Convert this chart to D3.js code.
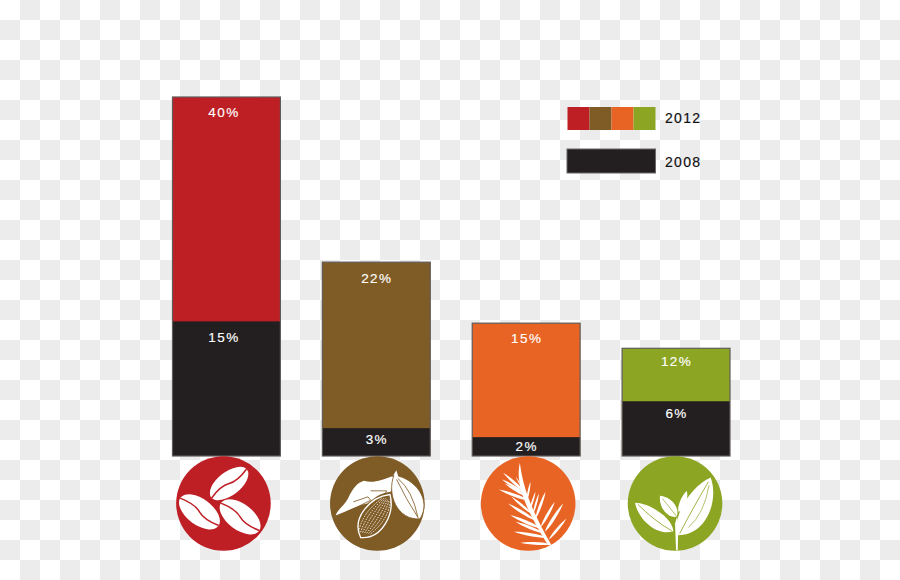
<!DOCTYPE html>
<html><head><meta charset="utf-8">
<script src="https://cdn.jsdelivr.net/npm/d3@7/dist/d3.min.js"></script>
<style>html,body{margin:0;padding:0;background:#fff;overflow:hidden}svg{display:block}text{font-family:"Liberation Sans",sans-serif}</style>
</head><body><div id="chart"></div>
<script>
const categories = ["Coffee","Cocoa","Palm oil","Tea"];
const values2012 = [40, 21.6, 14.8, 12];
const values2008 = [15, 3.1, 2.1, 6.1];
const colors2012 = ["#be1f25","#7f5b26","#e86424","#8ca522"];
const color2008 = "#231f20";
const legendLabels = ["2012","2008"];

const W=900,H=580;
const topLabelOffset=[15,16,15,13];
const lowLabelOffset=[16.5,11,9,12];
const labelShift=[-3,0,0,0];
const iconShift=[-3,1,2,-1];

const svg=d3.select("#chart").append("svg").attr("width",W).attr("height",H);
const pat=svg.append("defs").append("pattern").attr("id","chk").attr("width",40).attr("height",40).attr("patternUnits","userSpaceOnUse");
pat.append("rect").attr("width",40).attr("height",40).attr("fill","#fff");
pat.append("rect").attr("x",20).attr("width",20).attr("height",20).attr("fill","#ececec");
pat.append("rect").attr("y",20).attr("width",20).attr("height",20).attr("fill","#ececec");
svg.append("rect").attr("width",W).attr("height",H).attr("fill","url(#chk)");

const x=d3.scaleBand().domain(categories).range([172.5,730]).paddingInner(0.28).paddingOuter(0);
const y=d3.scaleLinear().domain([0,40]).range([456,97]);
const pct=v=>d3.format(".0f")(v)+"%";

const g=svg.append("g").selectAll("g").data(categories).join("g").attr("transform",d=>`translate(${x(d)},0)`);
g.append("rect").attr("y",(d,i)=>y(values2012[i])).attr("width",x.bandwidth()).attr("height",(d,i)=>y(0)-y(values2012[i]))
 .attr("fill",(d,i)=>colors2012[i]);
g.append("rect").attr("y",(d,i)=>y(values2008[i])).attr("width",x.bandwidth()).attr("height",(d,i)=>y(0)-y(values2008[i]))
 .attr("fill",color2008);
g.append("rect").attr("y",(d,i)=>y(values2012[i])).attr("width",x.bandwidth()).attr("height",(d,i)=>y(0)-y(values2012[i]))
 .attr("fill","none").attr("stroke","#5f5b59").attr("stroke-width",1.2);

const lab=s=>s.attr("x",(d,i)=>x.bandwidth()/2+.5+labelShift[i]).attr("text-anchor","middle").attr("dominant-baseline","central")
 .attr("fill","#fff").attr("stroke","#fff").attr("stroke-width",.15).attr("font-size",13.5).attr("letter-spacing",1.4);
g.append("text").call(lab).attr("y",(d,i)=>y(values2012[i])+topLabelOffset[i]).text((d,i)=>pct(values2012[i]));
g.append("text").call(lab).attr("y",(d,i)=>y(values2008[i])+lowLabelOffset[i]).text((d,i)=>pct(values2008[i]));

// legend
const lx=d3.scaleBand().domain(colors2012).range([567.5,655.5]);
svg.append("g").selectAll("rect").data(colors2012).join("rect").attr("x",d=>lx(d)).attr("y",107).attr("width",lx.bandwidth()).attr("height",23).attr("fill",d=>d);
svg.append("rect").attr("x",567).attr("y",149).attr("width",88.5).attr("height",24).attr("fill",color2008).attr("stroke","#6a6765").attr("stroke-width",1);
svg.append("g").selectAll("text").data(legendLabels).join("text").attr("x",665).attr("y",(d,i)=>123+i*44).attr("fill","#111").attr("stroke","#111").attr("stroke-width",.2).attr("font-size",14).attr("letter-spacing",1.3).text(d=>d);

// icons, drawn in 3x local units around each disc centre
const WHITE="#fff";
const leaf=(bx,by,tx,ty,a,b)=>{
  const dx=tx-bx,dy=ty-by,nx=-dy,ny=dx;
  return `M${bx},${by}C${bx+dx*.2+nx*a},${by+dy*.2+ny*a} ${bx+dx*.75+nx*a*.8},${by+dy*.75+ny*a*.8} ${tx},${ty}C${bx+dx*.75-nx*b*.8},${by+dy*.75-ny*b*.8} ${bx+dx*.2-nx*b},${by+dy*.2-ny*b} ${bx},${by}Z`;
};
function coffee(s,c){
  [[17,-60,68,35,-38],[-72,25,71,39,37],[50,40,71,39,37]].forEach(([cx,cy,rx,ry,r])=>{
    const b=s.append("g").attr("transform",`translate(${cx},${cy}) rotate(${r})`);
    b.append("ellipse").attr("rx",rx).attr("ry",ry).attr("fill",WHITE);
    b.append("path").attr("d",`M${-rx},2C${-rx*.5},-8 ${-rx*.2},-6 0,0S${rx*.5},8 ${rx},-2`).attr("fill","none").attr("stroke",c).attr("stroke-width",4.5);
  });
}
function cocoa(s,c){
  s.append("path").attr("d","M-125,36C-118,15 -100,8 -88,-15C-72,-48 -60,-62 -40,-68C-10,-60 15,-72 45,-82C55,-70 45,-50 40,-35C5,-30 -10,-15 -30,0C-60,5 -95,25 -125,36Z").attr("fill",WHITE);
  s.append("path").attr("d","M-72,-5L-28,-20L-20,-10L-55,8M-20,-38L28,-38L20,-25").attr("fill","none").attr("stroke",c).attr("stroke-width",2.5);
  s.append("path").attr("d",leaf(-50,102,38,-27,.36,.36)).attr("fill",c).attr("stroke",WHITE).attr("stroke-width",4);
  d3.range(-3,4).forEach(k=>s.append("path").attr("d",`M${-38+k*6},${88+k*1}Q${-6+k*13},${38+k*4} ${28+k*4},${-14+k*1}`).attr("fill","none").attr("stroke",WHITE).attr("stroke-width",3).attr("stroke-dasharray","4 4"));
  s.append("path").attr("d",leaf(128,46,50,-85,.4,.4)).attr("fill",WHITE).attr("stroke",c).attr("stroke-width",2.5);
  s.append("path").attr("d","M58,-72Q85,-15 122,42M62,-75Q105,-40 122,42").attr("fill","none").attr("stroke",c).attr("stroke-width",2.5);
  s.append("path").attr("d","M48,-85L57,-100L64,-78Z").attr("fill",WHITE);
}
function palm(s,c){
  s.append("path").attr("d","M-25,-122C-18,-70 -5,-5 70,125L60,125C-17,5 -38,-70 -25,-122Z").attr("fill",WHITE);
  const tips=[[-37,-80,-20,-50],[-75,-92,-10,-35],[-78,-72,-8,-30],[-88,-42,0,-10],[-70,-60,-3,-20],[7,-65,-5,-5],[22,-35,5,20],[32,-30,15,30],[52,-35,22,45],[80,-5,38,70],[105,0,50,85],[115,45,62,108],[-53,35,40,75],[-43,85,55,102],[-23,118,65,122],[-60,0,20,50],[-50,-20,10,30],[-38,55,48,90]];
  tips.forEach(([tx,ty,bx,by])=>s.append("path").attr("d",leaf(bx,by,tx,ty,.07,.07)).attr("fill",WHITE));
}
function tea(s,c){
  s.append("path").attr("d","M3,140L8,140L10,60L6,40L0,60Z").attr("fill",WHITE);
  s.append("path").attr("d",leaf(10,95,107,-78,.36,.24)).attr("fill",WHITE);
  s.append("path").attr("d","M14,90Q50,20 100,-65").attr("fill","none").attr("stroke",c).attr("stroke-width",2.5);
  s.append("path").attr("d","M40,72Q88,30 102,-55").attr("fill","none").attr("stroke",c).attr("stroke-width",2);
  s.append("path").attr("d",leaf(-5,83,-120,-2,.22,.3)).attr("fill",WHITE);
  s.append("path").attr("d","M-10,82Q-65,50 -112,2").attr("fill","none").attr("stroke",c).attr("stroke-width",2.5);
  s.append("path").attr("d",leaf(5,40,-45,-23,.34,.34)).attr("fill",WHITE);
  s.append("path").attr("d",leaf(10,25,35,-38,.25,.15)).attr("fill",WHITE);
  s.append("path").attr("d","M6,40L-38,-15").attr("stroke",c).attr("stroke-width",2).attr("fill","none");
}
const drawers=[coffee,cocoa,palm,tea];
const icons=svg.append("g").selectAll("g").data(categories).join("g").attr("transform",(d,i)=>`translate(${x(d)+x.bandwidth()/2+iconShift[i]},503.5)`);
icons.append("circle").attr("r",47.3).attr("fill",(d,i)=>colors2012[i]);
icons.each(function(d,i){drawers[i](d3.select(this).append("g").attr("transform","scale(0.3333)"),colors2012[i]);});
</script></body></html>
